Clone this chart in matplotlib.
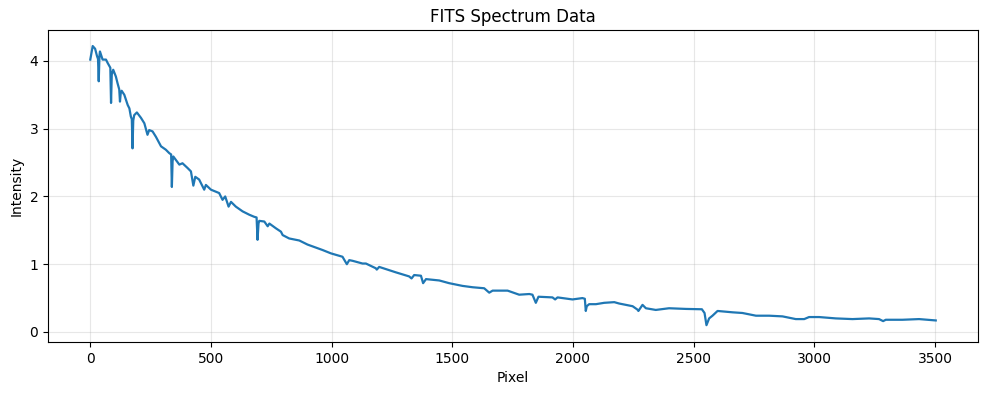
import matplotlib.pyplot as plt

# pixel positions and intensity
pixel = [0, 10, 20, 28, 32, 35, 38, 40, 51, 65, 72, 83, 86, 89, 95, 106, 113, 120, 123, 126, 130, 141,
         155, 162, 168, 172, 175, 178, 182, 193, 210, 224, 237, 244, 258, 272, 293, 313, 327, 335,
         338, 341, 344, 369, 382, 403, 417, 427, 435, 451, 472, 479, 500, 534, 548, 559, 573, 583,
         603, 631, 659, 679, 689, 693, 697, 700, 721, 735, 742, 769, 790, 797, 824, 866, 900, 962,
         997, 1045, 1063, 1073, 1087, 1128, 1142, 1183, 1187, 1197, 1266, 1321, 1331, 1342, 1370,
         1379, 1391, 1446, 1487, 1542, 1584, 1632, 1653, 1667, 1729, 1777, 1819, 1832, 1846, 1857,
         1915, 1926, 1936, 1998, 2039, 2049, 2053, 2057, 2067, 2095, 2129, 2171, 2191, 2247, 2267,
         2271, 2288, 2302, 2343, 2398, 2468, 2534, 2545, 2553, 2564, 2578, 2599, 2661, 2702, 2758,
         2813, 2868, 2923, 2958, 2978, 3020, 3089, 3158, 3227, 3268, 3285, 3296, 3365, 3434, 3503]
intensity = [4.02, 4.22, 4.18, 4.07, 4.03, 3.70, 4.08, 4.14, 4.02, 4.02, 3.97, 3.90, 3.38, 3.80, 3.87,
             3.77, 3.67, 3.58, 3.40, 3.52, 3.56, 3.50, 3.35, 3.30, 3.18, 3.14, 2.71, 3.12, 3.20, 3.24,
             3.16, 3.08, 2.91, 2.98, 2.96, 2.88, 2.74, 2.69, 2.64, 2.62, 2.14, 2.52, 2.59, 2.47, 2.49,
             2.42, 2.37, 2.16, 2.29, 2.25, 2.10, 2.17, 2.10, 2.05, 1.95, 2.00, 1.85, 1.92, 1.85, 1.78,
             1.73, 1.70, 1.69, 1.36, 1.60, 1.64, 1.63, 1.56, 1.60, 1.53, 1.48, 1.43, 1.38, 1.35, 1.29,
             1.21, 1.16, 1.11, 1.00, 1.06, 1.05, 1.01, 1.01, 0.94, 0.92, 0.96, 0.88, 0.82, 0.79, 0.84,
             0.83, 0.72, 0.78, 0.76, 0.72, 0.68, 0.66, 0.645, 0.58, 0.61, 0.61, 0.55, 0.56, 0.55, 0.43,
             0.52, 0.51, 0.48, 0.51, 0.48, 0.50, 0.49, 0.31, 0.38, 0.41, 0.41, 0.43, 0.44, 0.42, 0.38,
             0.33, 0.31, 0.40, 0.35, 0.325, 0.35, 0.34, 0.335, 0.28, 0.10, 0.20, 0.24, 0.31, 0.29,
             0.28, 0.24, 0.24, 0.23, 0.19, 0.19, 0.22, 0.22, 0.20, 0.19, 0.20, 0.19, 0.16, 0.18, 0.18,
             0.19, 0.17]

fig, ax = plt.subplots(figsize=(9.88, 3.93), dpi=100)
fig.subplots_adjust(left=0.0486, right=0.9899, top=0.9237, bottom=0.1298)

ax.plot(pixel, intensity, color='#1f77b4', linewidth=1.6)
ax.set_ylim(-0.148, 4.457)
ax.set_xlabel("Pixel")
ax.set_ylabel("Intensity")
ax.set_title("FITS Spectrum Data")
ax.grid(True, alpha=0.3)

fig.savefig("out.png")
